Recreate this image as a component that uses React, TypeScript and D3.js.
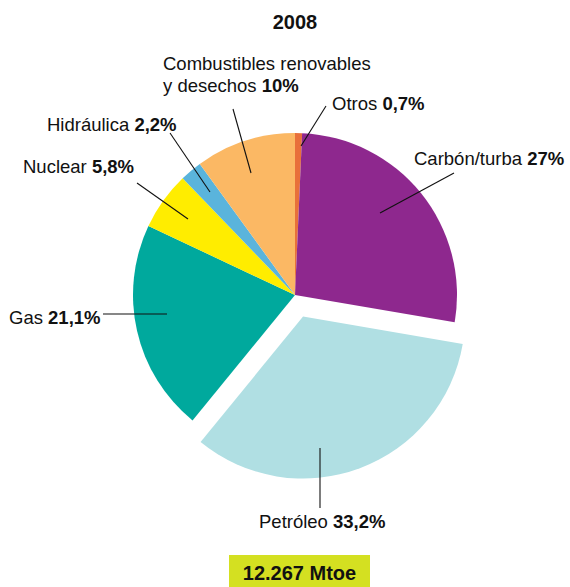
import React from "react";
import * as d3 from "d3";

// Energy supply shares, 2008
const sources = ["Otros", "Carbón/turba", "Petróleo", "Gas", "Nuclear", "Hidráulica", "Combustibles renovables y desechos"];
const shares = [0.7, 27, 33.2, 21.1, 5.8, 2.2, 10];
const shareLabels = ["0,7%", "27%", "33,2%", "21,1%", "5,8%", "2,2%", "10%"];
const colors = ["#E8703A", "#8E288E", "#B0DFE3", "#00A99D", "#FFED00", "#5AB4DC", "#FBB864"];
const explodedSource = "Petróleo";
const title = "2008";
const totalLabel = "12.267 Mtoe";

const W = 570;
const H = 587;
const cx = 295;
const cy = 295;
const R = 162;
const explode = 23;

// label text position and leader line (from label to slice)
const labelLayout: Record<string, { x: number; y: number; lines?: string[]; from: [number, number]; to: [number, number] }> = {
  "Otros": { x: 332, y: 110, from: [326, 106], to: [301, 146] },
  "Carbón/turba": { x: 414, y: 165, from: [454, 173], to: [380, 213] },
  "Petróleo": { x: 259, y: 528, from: [320, 508], to: [320, 448] },
  "Gas": { x: 9, y: 324, from: [103, 314], to: [167, 314] },
  "Nuclear": { x: 23, y: 173, from: [137, 183], to: [188, 219] },
  "Hidráulica": { x: 47, y: 131, from: [170, 133], to: [210, 192] },
  "Combustibles renovables y desechos": { x: 163, y: 70, lines: ["Combustibles renovables", "y desechos"], from: [233, 109], to: [251, 173] },
};

export default function App() {
  const data = sources.map((s, i) => ({ name: s, value: shares[i], label: shareLabels[i], color: colors[i] }));
  const pie = d3.pie<any>().sort(null).value((d) => d.value).startAngle(0).endAngle(2 * Math.PI);
  const arcs = pie(data);
  const arc = d3.arc<any>().innerRadius(0).outerRadius(R);
  const font = "'Liberation Sans', Arial, sans-serif";
  const fs = 18.5;

  return (
    <svg width={W} height={H} style={{ display: "block", position: "absolute", left: 0, top: 0 }} fontFamily={font}>
      <rect width={W} height={H} fill="#fff" />
      <text x={cx} y={29} textAnchor="middle" fontSize={20} fontWeight="bold" fill="#111">{title}</text>
      <g>
        {arcs.map((a, i) => {
          const mid = (a.startAngle + a.endAngle) / 2;
          const off = a.data.name === explodedSource ? explode : 0;
          const dx = Math.sin(mid) * off;
          const dy = -Math.cos(mid) * off;
          return (
            <path key={i} d={arc(a) || ""} fill={a.data.color} transform={`translate(${cx + dx},${cy + dy})`} />
          );
        })}
      </g>
      {data.map((d, i) => {
        const L = labelLayout[d.name];
        return (
          <g key={i}>
            <line x1={L.from[0]} y1={L.from[1]} x2={L.to[0]} y2={L.to[1]} stroke="#111" strokeWidth={1.1} />
            {L.lines ? (
              <text fontSize={fs} fill="#111">
                <tspan x={L.x} y={L.y}>{L.lines[0]}</tspan>
                <tspan x={L.x} y={L.y + 22}>{L.lines[1]} <tspan fontWeight="bold">{d.label}</tspan></tspan>
              </text>
            ) : (
              <text x={L.x} y={L.y} fontSize={fs} fill="#111">
                {d.name} <tspan fontWeight="bold">{d.label}</tspan>
              </text>
            )}
          </g>
        );
      })}
      <rect x={229} y={555} width={141} height={32} fill="#D4E021" />
      <text x={299.5} y={580} textAnchor="middle" fontSize={20} fontWeight="bold" fill="#111">{totalLabel}</text>
    </svg>
  );
}
